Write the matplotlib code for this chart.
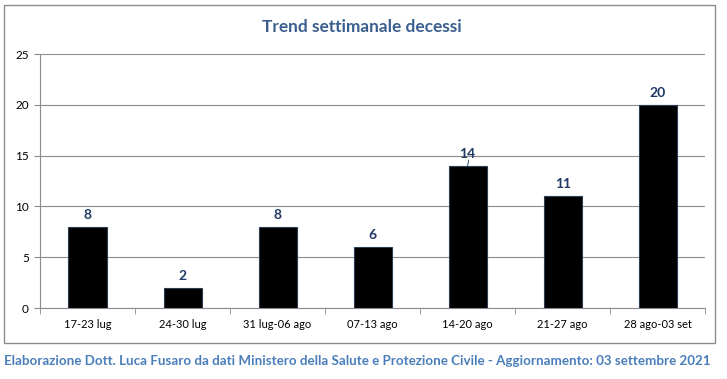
import matplotlib
matplotlib.use('Agg')
import matplotlib.pyplot as plt
from matplotlib.patches import Rectangle
import numpy as np

plt.rcParams['font.family'] = ['Lato', 'DejaVu Sans']

settimane = ['17-23 lug', '24-30 lug', '31 lug-06 ago', '07-13 ago',
             '14-20 ago', '21-27 ago', '28 ago-03 set']
decessi = [8, 2, 8, 6, 14, 11, 20]
yticks = [0, 5, 10, 15, 20, 25]

fig = plt.figure(figsize=(7.27, 3.79), dpi=100)
ax = fig.add_axes([0.055, 0.1873, 0.915, 0.6702])

# riquadro esterno
fig.patches.append(Rectangle((0.0055, 0.095), 0.978, 0.892, transform=fig.transFigure,
                             fill=False, edgecolor='#8c8c8c', linewidth=1.0))

x = np.arange(len(settimane))
ax.bar(x, decessi, width=0.4, color='black', edgecolor='#2b3d55', linewidth=0.8, zorder=3)

for i, v in enumerate(decessi):
    ax.text(i, v + 0.6, str(v), ha='center', va='bottom', fontsize=10,
            fontweight='bold', color='#1f3864')
# piccolo segno di richiamo sotto il 14
ax.plot([4.0, 4.01], [14.0, 14.55], color='#1f3864', lw=0.6, zorder=4)

ax.set_xlim(-0.5, len(settimane) - 0.5)
ax.set_ylim(0, 25)
ax.set_yticks(yticks)
ax.tick_params(axis='y', labelsize=8.5, length=4, color='#8c8c8c', pad=4)
ax.set_xticks(x)
ax.set_xticklabels(settimane, fontsize=8)
ax.tick_params(axis='x', length=0, pad=8)
ax.set_xticks(np.arange(-0.5, len(settimane)), minor=True)
ax.tick_params(axis='x', which='minor', length=4, color='#8c8c8c')

ax.grid(axis='y', color='#8c8c8c', linewidth=0.8, zorder=0)
for s in ['top', 'right']:
    ax.spines[s].set_visible(False)
ax.spines['left'].set_color('#8c8c8c')
ax.spines['bottom'].set_color('#8c8c8c')

fig.text(0.498, 0.93, 'Trend settimanale decessi', ha='center', va='center',
         fontsize=12.4, fontweight='bold', color='#3a5f8f')
fig.text(0.006, 0.047, 'Elaborazione Dott. Luca Fusaro da dati Ministero della Salute e Protezione Civile - '
         'Aggiornamento: 03 settembre 2021', ha='left', va='center',
         fontsize=9.6, fontweight='bold', color='#4a7ebb')

fig.savefig('out.png', dpi=100)
